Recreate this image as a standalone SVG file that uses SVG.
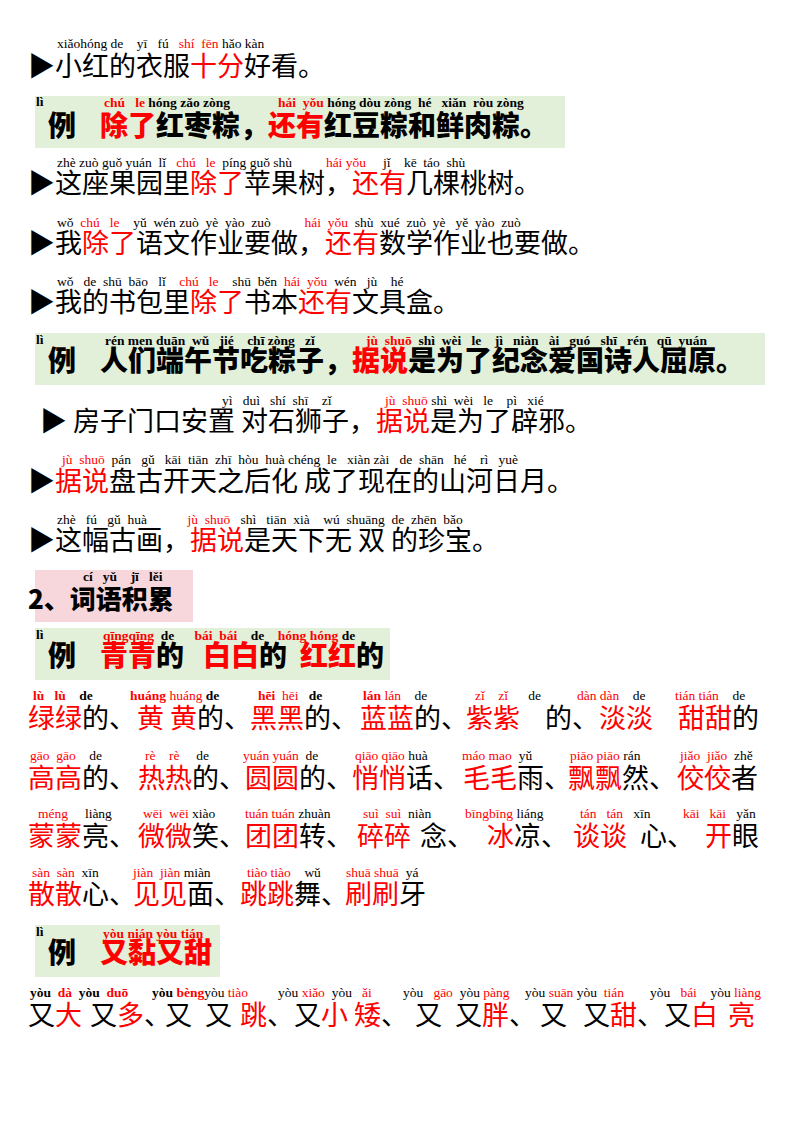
<svg xmlns="http://www.w3.org/2000/svg" width="800" height="1125" viewBox="0 0 800 1125">
<style>
.m{font-family:"Noto Sans CJK SC",sans-serif;font-size:27px;fill:#000}
.b{font-family:"Noto Sans CJK SC",sans-serif;font-size:28px;font-weight:900;fill:#000}
.p{font-family:"Liberation Serif",serif;font-size:13.5px;fill:#000;white-space:pre}
.pb{font-family:"Liberation Serif",serif;font-size:13.5px;font-weight:bold;fill:#000;white-space:pre}
.r{fill:#f00}
.box{fill:#e2f0d9}
</style>
<rect width="800" height="1125" fill="#fff"/>
<g id="s1">
<text class="p" x="57" y="48">xiǎohóng de    yī   fú   <tspan class="r">shí  fēn</tspan> hǎo kàn</text>
<text class="m" x="28" y="76">▶小红的衣服<tspan class="r">十分</tspan>好看。</text>
</g>
<g id="ex2">
<rect class="box" x="35" y="96" width="530" height="52"/>
<text class="pb" x="36" y="106">lì</text>
<text class="pb" x="104" y="107"><tspan class="r">chú   le</tspan> hóng zǎo zòng</text>
<text class="pb" x="278" y="107"><tspan class="r">hái  yǒu</tspan> hóng dòu zòng  hé   xiǎn  ròu zòng</text>
<text class="b" x="48" y="136">例<tspan x="100"><tspan class="r">除了</tspan>红枣粽，<tspan class="r">还有</tspan>红豆粽和鲜肉粽。</tspan></text>
</g>
<g id="s3">
<text class="p" x="57" y="167">zhè zuò guǒ yuán  lǐ   <tspan class="r">chú   le</tspan>  píng guǒ shù          <tspan class="r">hái yǒu</tspan>     jǐ    kē  táo  shù</text>
<text class="m" x="28" y="193">▶这座果园里<tspan class="r">除了</tspan>苹果树，<tspan class="r">还有</tspan>几棵桃树。</text>
</g>
<g id="s4">
<text class="p" x="57" y="227">wǒ  <tspan class="r">chú   le</tspan>    yǔ  wén zuò  yè  yào  zuò          <tspan class="r">hái  yǒu</tspan>  shù  xué  zuò  yè   yě  yào  zuò</text>
<text class="m" x="28" y="253">▶我<tspan class="r">除了</tspan>语文作业要做，<tspan class="r">还有</tspan>数学作业也要做。</text>
</g>
<g id="s5">
<text class="p" x="57" y="286">wǒ   de  shū  bāo   lǐ    <tspan class="r">chú   le</tspan>    shū  běn  <tspan class="r">hái  yǒu</tspan>  wén   jù    hé</text>
<text class="m" x="28" y="312">▶我的书包里<tspan class="r">除了</tspan>书本<tspan class="r">还有</tspan>文具盒。</text>
</g>
<g id="ex3">
<rect class="box" x="35" y="333" width="730" height="52"/>
<text class="pb" x="36" y="344">lì</text>
<text class="pb" x="105" y="345">rén men duān  wǔ   jié    chī zòng   zǐ</text>
<text class="pb" x="366" y="345"><tspan class="r">jù  shuō</tspan>  shì  wèi   le    jì   niàn   ài   guó   shī   rén   qū  yuán</text>
<text class="b" x="48" y="371">例<tspan x="100">人们端午节吃粽子，<tspan class="r">据说</tspan>是为了纪念爱国诗人屈原。</tspan></text>
</g>
<g id="s6">
<text class="p" x="222" y="405">yì   duì   shí  shī    zǐ</text>
<text class="p" x="385" y="405"><tspan class="r">jù  shuō</tspan> shì  wèi   le    pì   xié</text>
<text class="m" x="40" y="431">▶ 房子门口安置 对石狮子，<tspan class="r">据说</tspan>是为了辟邪。</text>
</g>
<g id="s7">
<text class="p" x="62" y="464"><tspan class="r">jù  shuō</tspan>  pán   gǔ   kāi  tiān  zhī  hòu  huà chéng  le   xiàn zài   de  shān   hé    rì   yuè</text>
<text class="m" x="28" y="491">▶<tspan class="r">据说</tspan>盘古开天之后化 成了现在的山河日月。</text>
</g>
<g id="s8">
<text class="p" x="57" y="524">zhè   fú   gǔ  huà            <tspan class="r">jù  shuō</tspan>   shì   tiān  xià    wú  shuāng  de  zhēn  bǎo</text>
<text class="m" x="28" y="550">▶这幅古画，<tspan class="r">据说</tspan>是天下无 双 的珍宝。</text>
</g>
<g id="sec2">
<rect x="35" y="570" width="158" height="52" fill="#f8d7dc"/>
<text class="pb" x="83" y="581">cí   yǔ    jī   lěi</text>
<text class="b" x="28" y="609" style="font-size:26px">2、词语积累</text>
</g>
<g id="ex4">
<rect class="box" x="35" y="628" width="355" height="52"/>
<text class="pb" x="36" y="639">lì</text>
<text class="pb" x="103" y="640"><tspan class="r">qīngqīng</tspan>  de      <tspan class="r">bái  bái</tspan>    de    <tspan class="r">hóng hóng</tspan> de</text>
<text class="b" x="48" y="666">例<tspan x="100" class="r">青青</tspan>的 <tspan x="203" class="r">白白</tspan>的 <tspan x="300" class="r">红红</tspan>的</text>
</g>
<g id="row1">
<text class="pb" x="33" y="700"><tspan class="r">lù   lù</tspan>    de</text>
<text class="pb" x="130" y="700"><tspan class="r">huáng</tspan> <tspan class="r" font-weight="normal">huáng</tspan> de</text>
<text class="pb" x="258" y="700"><tspan class="r">hēi</tspan>  <tspan class="r" font-weight="normal">hēi</tspan>   de</text>
<text class="p" x="363" y="700"><tspan class="r" font-weight="bold">lán</tspan> <tspan class="r">lán</tspan>    de</text>
<text class="p" x="475" y="700"><tspan class="r">zǐ    zǐ</tspan>      de</text>
<text class="p" x="577" y="700"><tspan class="r">dàn dàn</tspan>    de</text>
<text class="p" x="675" y="700"><tspan class="r">tián tián</tspan>    de</text>
<text class="m" y="728"><tspan x="28" class="r">绿绿</tspan>的、<tspan x="137" class="r">黄 黄</tspan>的、<tspan x="250" class="r">黑黑</tspan>的、<tspan x="360" class="r">蓝蓝</tspan>的、<tspan x="466" class="r">紫紫</tspan><tspan x="545">的</tspan>、<tspan class="r">淡淡</tspan><tspan x="678" class="r">甜甜</tspan>的</text>
</g>
<g id="row2">
<text class="p" x="30" y="760"><tspan class="r">gāo  gāo</tspan>    de</text>
<text class="p" x="145" y="760"><tspan class="r">rè    rè</tspan>     de</text>
<text class="p" x="243" y="760"><tspan class="r">yuán yuán</tspan>  de</text>
<text class="p" x="355" y="760"><tspan class="r">qiāo qiāo</tspan> huà</text>
<text class="p" x="462" y="760"><tspan class="r">máo mao</tspan>  yǔ</text>
<text class="p" x="570" y="760"><tspan class="r">piāo piāo</tspan> rán</text>
<text class="p" x="680" y="760"><tspan class="r">jiǎo  jiǎo</tspan>  zhě</text>
<text class="m" y="788"><tspan x="28" class="r">高高</tspan>的、<tspan x="138" class="r">热热</tspan>的、<tspan x="245" class="r">圆圆</tspan>的、<tspan x="352" class="r">悄悄</tspan>话、<tspan x="463" class="r">毛毛</tspan>雨、<tspan x="568" class="r">飘飘</tspan>然、<tspan x="677" class="r">佼佼</tspan>者</text>
</g>
<g id="row3">
<text class="p" x="38" y="818"><tspan class="r">méng</tspan>     liàng</text>
<text class="p" x="143" y="818"><tspan class="r">wēi  wēi</tspan> xiào</text>
<text class="p" x="245" y="818"><tspan class="r">tuán tuán</tspan> zhuàn</text>
<text class="p" x="363" y="818"><tspan class="r">suì  suì</tspan>  niàn</text>
<text class="p" x="465" y="818"><tspan class="r">bīngbīng</tspan> liáng</text>
<text class="p" x="580" y="818"><tspan class="r">tán   tán</tspan>   xīn</text>
<text class="p" x="683" y="818"><tspan class="r">kāi   kāi</tspan>   yǎn</text>
<text class="m" y="846"><tspan x="28" class="r">蒙蒙</tspan>亮、<tspan x="138" class="r">微微</tspan>笑、<tspan x="245" class="r">团团</tspan>转、<tspan x="357" class="r">碎碎</tspan><tspan x="420">念</tspan>、<tspan x="487" class="r">冰</tspan>凉、<tspan x="573" class="r">谈谈</tspan><tspan x="640">心</tspan>、<tspan x="705" class="r">开</tspan>眼</text>
</g>
<g id="row4">
<text class="p" x="32" y="877"><tspan class="r">sàn  sàn</tspan>  xīn</text>
<text class="p" x="133" y="877"><tspan class="r">jiàn  jiàn</tspan> miàn</text>
<text class="p" x="247" y="877"><tspan class="r">tiào tiào</tspan>    wǔ</text>
<text class="p" x="346" y="877"><tspan class="r">shuā shuā</tspan>  yá</text>
<text class="m" y="904"><tspan x="28" class="r">散散</tspan>心、<tspan x="133" class="r">见见</tspan>面、<tspan x="240" class="r">跳跳</tspan>舞、<tspan x="345" class="r">刷刷</tspan>牙</text>
</g>
<g id="ex5">
<rect class="box" x="35" y="925" width="185" height="52"/>
<text class="pb" x="36" y="936">lì</text>
<text class="pb r" x="103" y="938">yòu nián yòu tián</text>
<text class="b" x="48" y="963">例<tspan x="100" class="r">又黏又甜</tspan></text>
</g>
<g id="row5">
<text class="pb" x="30" y="997">yòu  <tspan class="r">dà</tspan>  yòu  <tspan class="r">duō</tspan></text>
<text class="pb" x="152" y="997">yòu <tspan class="r">bèng</tspan><tspan font-weight="normal">yòu <tspan class="r">tiào</tspan></tspan></text>
<text class="p" x="278" y="997">yòu <tspan class="r">xiǎo</tspan>  yòu   <tspan class="r">ǎi</tspan></text>
<text class="p" x="403" y="997">yòu   <tspan class="r">gāo</tspan>  yòu <tspan class="r">pàng</tspan></text>
<text class="p" x="525" y="997">yòu <tspan class="r">suān</tspan> yòu  <tspan class="r">tián</tspan></text>
<text class="p" x="650" y="997">yòu   <tspan class="r">bái</tspan>    yòu <tspan class="r">liàng</tspan></text>
<text class="m" y="1025"><tspan x="28">又</tspan><tspan class="r">大</tspan><tspan x="90">又</tspan><tspan class="r">多</tspan>、<tspan x="165">又</tspan><tspan x="205">又</tspan><tspan x="240" class="r">跳</tspan>、又<tspan class="r">小</tspan><tspan x="354" class="r">矮</tspan>、<tspan x="415">又</tspan><tspan x="455">又</tspan><tspan class="r">胖</tspan>、<tspan x="540">又</tspan><tspan x="583">又</tspan><tspan class="r">甜</tspan>、又<tspan class="r">白</tspan><tspan x="728" class="r">亮</tspan></text>
</g>
</svg>
